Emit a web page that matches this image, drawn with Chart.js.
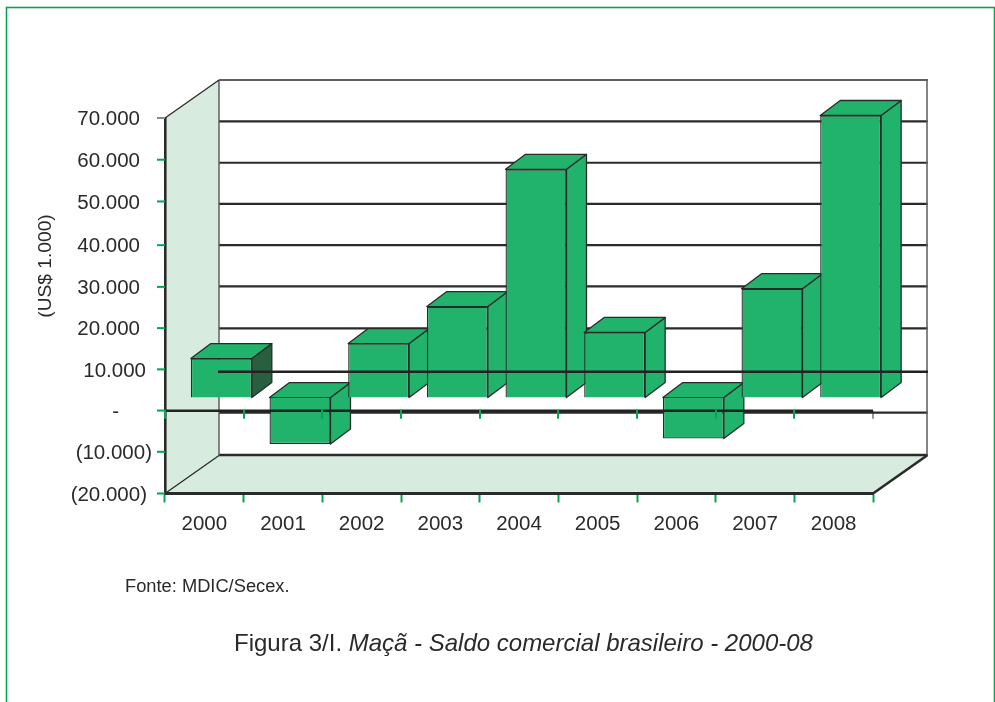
<!DOCTYPE html>
<html lang="pt">
<head>
<meta charset="utf-8">
<title>Maçã - Saldo comercial brasileiro</title>
<script src="https://cdn.jsdelivr.net/npm/chart.js@4/dist/chart.umd.min.js"></script>
<style>
  html, body { margin: 0; padding: 0; background: #fff; overflow: hidden; }
  canvas { display: block; }
</style>
</head>
<body>
<canvas id="saldo" width="995" height="702"></canvas>
<script>
const years = ["2000", "2001", "2002", "2003", "2004", "2005", "2006", "2007", "2008"];
const saldo = [9350, -11150, 12950, 21800, 54700, 15600, -9830, 26100, 67600];
const yTicks = [70000, 60000, 50000, 40000, 30000, 20000, 10000, 0, -10000, -20000];
const yTickLabels = ["70.000", "60.000", "50.000", "40.000", "30.000", "20.000", "10.000", "-", "(10.000)", "(20.000)"];

const ink = "#2b2a2a";
const green = "#00a651";
const barGreen = "#21b36c";
const wallGreen = "#d8ebdf";

// depth of the box: back wall offset, bar offset inside it, bar's own depth
const wall = { dx: 54, dy: -38 };
const barShift = { dx: 17, dy: -12.5 };
const barDepth = { dx: 20, dy: -15 };

// hand placement of the value labels and the slightly uneven rules
const labelRight = [140, 140, 140, 140, 140, 140, 146, 119, 152, 147];
const tickNudge = [0, 0, 0, 2, 2, 1.5, 1, 0.5, 0, 0];
const backNudge = [0, -0.4, -0.7, -1.2, -1.8, -2.2, -2, 0, -1.2, -0.5];

function line(ctx, x1, y1, x2, y2, color, width) {
  ctx.strokeStyle = color;
  ctx.lineWidth = width;
  ctx.beginPath();
  ctx.moveTo(x1, y1);
  ctx.lineTo(x2, y2);
  ctx.stroke();
}

function poly(ctx, pts, fill, stroke, width) {
  ctx.beginPath();
  pts.forEach((p, i) => i ? ctx.lineTo(p[0], p[1]) : ctx.moveTo(p[0], p[1]));
  ctx.closePath();
  ctx.fillStyle = fill;
  ctx.fill();
  if (stroke) {
    ctx.strokeStyle = stroke;
    ctx.lineWidth = width;
    ctx.lineJoin = "round";
    ctx.stroke();
  }
}

const box3d = {
  id: "box3d",

  // left wall and floor
  beforeDraw(chart) {
    const { ctx, chartArea: a } = chart;
    ctx.save();
    ctx.fillStyle = "#fff";
    ctx.fillRect(0, 0, chart.width, chart.height);
    poly(ctx, [[a.left, a.top], [a.left + wall.dx, a.top + wall.dy], [a.left + wall.dx, a.bottom + wall.dy], [a.left, a.bottom]], wallGreen);
    poly(ctx, [[a.left, a.bottom], [a.left + wall.dx, a.bottom + wall.dy], [a.right + wall.dx, a.bottom + wall.dy], [a.right, a.bottom]], wallGreen);
    ctx.restore();
  },

  // back plane: frame and gridlines sitting behind the bars
  beforeDatasetsDraw(chart) {
    const { ctx, chartArea: a, scales: { y } } = chart;
    const bx = a.left + wall.dx, rx = a.right + wall.dx;
    ctx.save();
    yTicks.forEach((v, i) => {
      if (v === 0) return;
      const py = y.getPixelForValue(v) + wall.dy + backNudge[i];
      const w = v === -20000 ? 2.6 : v === 70000 ? 1.6 : 2.2;
      line(ctx, bx, py, rx + 1, py, ink, w);
    });
    line(ctx, bx, a.top + wall.dy, bx, a.bottom + wall.dy, "#555", 1.4);
    line(ctx, rx, a.top + wall.dy, rx, a.bottom + wall.dy, "#666", 1.6);
    line(ctx, a.left, a.top, bx, a.top + wall.dy, ink, 1.3);
    line(ctx, a.left, a.bottom, bx, a.bottom + wall.dy, ink, 1.3);
    line(ctx, a.right, a.bottom, rx, a.bottom + wall.dy, ink, 2.6);
    ctx.restore();
  },

  // side and top of each box, then the library's bars shifted into the depth
  beforeDatasetDraw(chart, args) {
    const { ctx } = chart;
    const meta = chart.getDatasetMeta(args.index);
    ctx.save();
    meta.data.forEach((bar, i) => {
      const left = bar.x - bar.width / 2 + barShift.dx;
      const right = bar.x + bar.width / 2 + barShift.dx;
      const top = Math.min(bar.y, bar.base) + barShift.dy;
      const bottom = Math.max(bar.y, bar.base) + barShift.dy;
      const d = barDepth;
      poly(ctx, [[right, top], [right + d.dx, top + d.dy], [right + d.dx, bottom + d.dy], [right, bottom]],
        i === 0 ? "#28603f" : barGreen, ink, 1.3);
      poly(ctx, [[left, top], [left + d.dx, top + d.dy], [right + d.dx, top + d.dy], [right, top]], barGreen, ink, 1.3);
    });
    ctx.translate(barShift.dx, barShift.dy);
  },

  afterDatasetDraw(chart) {
    chart.ctx.restore();
  },

  // lines that run in front of the bars
  afterDatasetsDraw(chart) {
    const { ctx, chartArea: a, scales: { x, y } } = chart;
    const zero = y.getPixelForValue(0) + 0.7;
    const step = x.getPixelForValue(1) - x.getPixelForValue(0);
    ctx.save();
    line(ctx, a.left + wall.dx - 1, zero + wall.dy - 1, a.right + wall.dx + 1, zero + wall.dy - 1, "#222", 2.4);
    line(ctx, a.left, zero, a.right, zero, "#222", 2.4);
    years.forEach((yr, i) => {
      const tx = Math.round(x.getPixelForValue(i) - step / 2);
      line(ctx, tx, zero - 1, tx, zero + 8, green, 2);
    });
    line(ctx, a.right, zero, a.right, zero + 8, ink, 1);
    ctx.restore();
  },

  // axis ticks and value labels, axis caption, source line, figure title and page frame
  afterDraw(chart) {
    const { ctx, chartArea: a, scales: { y } } = chart;
    ctx.save();
    ctx.fillStyle = ink;
    ctx.textBaseline = "middle";
    ctx.font = "20.5px 'Liberation Sans'";
    ctx.textAlign = "right";
    yTicks.forEach((v, i) => {
      const py = y.getPixelForValue(v) + tickNudge[i];
      line(ctx, a.left - 8, py, a.left, py, v === 70000 ? "#888" : green, 2);
      ctx.fillText(yTickLabels[i], labelRight[i], py + 1.6);
    });

    ctx.save();
    ctx.translate(46, 266);
    ctx.rotate(-Math.PI / 2);
    ctx.textAlign = "center";
    ctx.font = "19.2px 'Liberation Sans'";
    ctx.fillText("(US$ 1.000)", 0, 0);
    ctx.restore();

    ctx.textAlign = "left";
    ctx.font = "18.3px 'Liberation Sans'";
    ctx.fillText("Fonte: MDIC/Secex.", 125, 587);

    ctx.font = "24px 'Liberation Sans'";
    const head = "Figura 3/I. ";
    ctx.fillText(head, 234, 644);
    const headW = ctx.measureText(head).width;
    ctx.font = "italic 24px 'Liberation Sans'";
    ctx.fillText("Maçã - Saldo comercial brasileiro - 2000-08", 234 + headW, 644);

    ctx.strokeStyle = green;
    ctx.lineWidth = 1.6;
    ctx.strokeRect(6.5, 7.5, 988, 720);
    ctx.restore();
  }
};

new Chart(document.getElementById("saldo"), {
  type: "bar",
  data: {
    labels: years,
    datasets: [{
      data: saldo,
      backgroundColor: barGreen,
      borderColor: ink,
      borderWidth: 1.3,
      categoryPercentage: 1,
      barPercentage: 0.775
    }]
  },
  options: {
    responsive: false,
    animation: false,
    layout: { padding: { top: 118, right: 122, left: 0, bottom: 0 } },
    plugins: { legend: { display: false }, tooltip: { enabled: false } },
    scales: {
      x: {
        offset: true,
        afterFit: s => { s.height = 208.5; },
        border: { color: ink, width: 3 },
        grid: { drawOnChartArea: false, drawTicks: true, tickLength: 9, tickColor: green, tickWidth: 2 },
        ticks: {
          color: ink,
          padding: 10,
          maxRotation: 0,
          autoSkip: false,
          font: { family: "'Liberation Sans'", size: 20.5 }
        }
      },
      y: {
        min: -20000,
        max: 70000,
        afterFit: s => { s.width = 165; },
        afterBuildTicks: s => { s.ticks = yTicks.map(value => ({ value })); },
        border: { color: ink, width: 2.6 },
        grid: { display: false },
        ticks: { display: false }
      }
    }
  },
  plugins: [box3d]
});
</script>
</body>
</html>
